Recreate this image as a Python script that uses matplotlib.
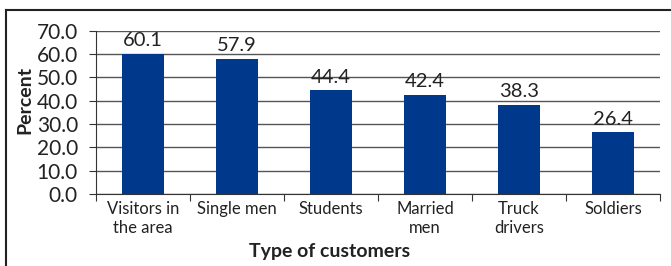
import matplotlib.pyplot as plt
from matplotlib.lines import Line2D

plt.rcParams['font.family'] = ['Lato', 'DejaVu Sans']

categories = ['Visitors in\nthe area', 'Single men', 'Students', 'Married\nmen', 'Truck\ndrivers', 'Soldiers']
percent = [60.1, 57.9, 44.4, 42.4, 38.3, 26.4]
yticks = [0, 10, 20, 30, 40, 50, 60, 70]

fig = plt.figure(figsize=(6.71, 2.66), dpi=100)
ax = fig.add_axes([96 / 671, 1 - 194 / 266, 564 / 671, 163.3 / 266])

x = range(len(categories))
bars = ax.bar(x, percent, width=0.44, color='#00388C', zorder=3)
for b, v in zip(bars, percent):
    ax.annotate(f'{v:.1f}', (b.get_x() + b.get_width() / 2, v), xytext=(0, 3.5),
                textcoords='offset points', ha='center', va='bottom', fontsize=14.5, color='#222222')

ax.set_xlim(-0.5, len(categories) - 0.5)
ax.set_ylim(0, 70)
ax.set_yticks(yticks)
ax.set_yticklabels([f'{t:.1f}' for t in yticks], fontsize=15, color='#222222')
ax.yaxis.grid(True, color='#555555', linewidth=1, zorder=0)

ax.set_xticks([i - 0.5 for i in range(len(categories) + 1)], minor=False)
ax.set_xticklabels([])
ax.set_xticks(list(x), minor=True)
ax.set_xticklabels(categories, minor=True, fontsize=12, color='#222222', linespacing=1.2)
ax.tick_params(axis='x', which='minor', length=0, pad=5)
ax.tick_params(axis='x', which='major', length=5, direction='out', color='#333333')
ax.tick_params(axis='y', length=5, direction='out', color='#333333', pad=8)

for s in ['top', 'right']:
    ax.spines[s].set_visible(False)
ax.spines['left'].set_color('#333333')
ax.spines['bottom'].set_color('#333333')

fig.text(25 / 671, 1 - 100 / 266, 'Percent', rotation=90, ha='center', va='center',
         fontsize=14, fontweight='bold', color='#222222')
fig.text(330 / 671, 1 - 251 / 266, 'Type of customers', ha='center', va='center',
         fontsize=14, fontweight='bold', color='#222222')

# frame around the chart (cropped on right and bottom)
fig.add_artist(Line2D([6 / 671, 6 / 671], [0, 1 - 10 / 266], transform=fig.transFigure,
                      color='#222222', linewidth=1.5))
fig.add_artist(Line2D([6 / 671, 1], [1 - 10 / 266, 1 - 10 / 266], transform=fig.transFigure,
                      color='#222222', linewidth=1.5))

fig.savefig('out.png', dpi=100)
